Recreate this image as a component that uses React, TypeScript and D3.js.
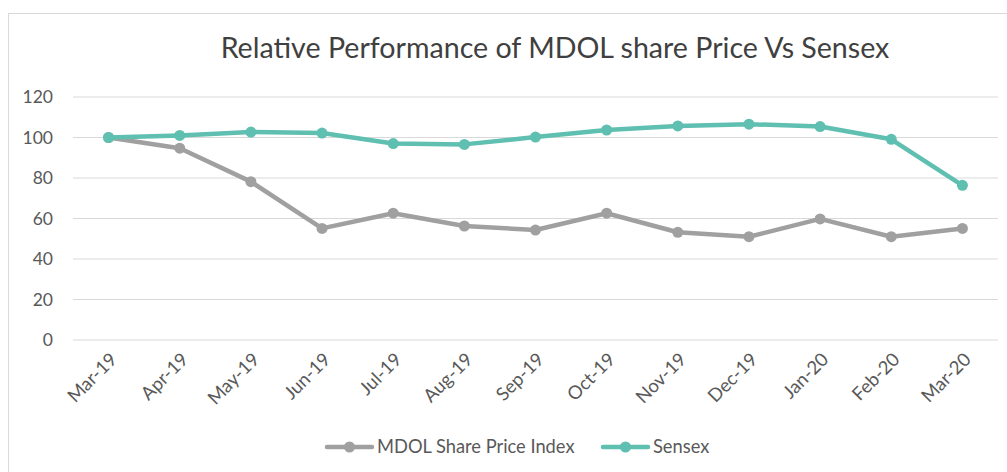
import React, { useEffect, useRef } from 'react';
import * as d3 from 'd3';

// monthly categories
const months = ['Mar-19', 'Apr-19', 'May-19', 'Jun-19', 'Jul-19', 'Aug-19', 'Sep-19', 'Oct-19', 'Nov-19', 'Dec-19', 'Jan-20', 'Feb-20', 'Mar-20'];
const mdolIndex = [100, 94.7, 78.2, 55.1, 62.6, 56.3, 54.3, 62.6, 53.2, 51.0, 59.8, 51.0, 55.1];
const sensex = [100, 101, 102.7, 102.2, 97.0, 96.6, 100.2, 103.7, 105.7, 106.6, 105.4, 99.1, 76.4];
const yTicks = [0, 20, 40, 60, 80, 100, 120];
const seriesNames = ['MDOL Share Price Index', 'Sensex'];

const FONT = 'Lato, "Open Sans", sans-serif';

const App: React.FC = () => {
  const svgRef = useRef<SVGSVGElement>(null);

  useEffect(() => {
    if (!svgRef.current) return;
    const width = 1007;
    const height = 472;
    const margin = { top: 97, right: 9, bottom: 132, left: 73 };

    const svg = d3.select(svgRef.current);
    svg.selectAll('*').remove();

    // outer chart border (right/bottom run off the picture)
    svg.append('rect')
      .attr('x', 8.5).attr('y', 13.5)
      .attr('width', 1010).attr('height', 490)
      .attr('fill', 'white')
      .attr('stroke', '#d9d9d9');

    const x = d3.scaleBand()
      .domain(months)
      .range([margin.left, width - margin.right]);

    const y = d3.scaleLinear()
      .domain([0, 120])
      .range([height - margin.bottom, margin.top]);

    // grid lines
    svg.append('g')
      .selectAll('line')
      .data(yTicks)
      .join('line')
        .attr('x1', margin.left)
        .attr('x2', width - margin.right)
        .attr('y1', d => y(d))
        .attr('y2', d => y(d))
        .attr('stroke', '#d9d9d9')
        .attr('stroke-width', 1);

    // y labels
    svg.append('g')
      .selectAll('text')
      .data(yTicks)
      .join('text')
        .attr('x', 53)
        .attr('y', d => y(d))
        .attr('dy', '0.35em')
        .attr('text-anchor', 'end')
        .attr('font-family', FONT)
        .attr('font-size', 17.5)
        .attr('fill', '#595959')
        .text(d => d);

    // x labels rotated
    const cx = (m: string) => (x(m) ?? 0) + x.bandwidth() / 2;
    svg.append('g')
      .selectAll('text')
      .data(months)
      .join('text')
        .attr('transform', d => `translate(${cx(d) + 5},${y(0) + 16}) rotate(-45)`)
        .attr('text-anchor', 'end')
        .attr('dy', '0.35em')
        .attr('font-family', FONT)
        .attr('font-size', 18.5)
        .attr('fill', '#595959')
        .text(d => d);

    const series = [
      { name: seriesNames[0], values: mdolIndex, color: '#a0a0a0' },
      { name: seriesNames[1], values: sensex, color: '#5fbfb0' },
    ];

    const line = d3.line<number>()
      .x((_, i) => cx(months[i]))
      .y(d => y(d));

    series.forEach(s => {
      const g = svg.append('g');
      g.append('path')
        .datum(s.values)
        .attr('d', line)
        .attr('fill', 'none')
        .attr('stroke', s.color)
        .attr('stroke-width', 4.5)
        .attr('stroke-linejoin', 'round')
        .attr('stroke-linecap', 'round');
      g.selectAll('circle')
        .data(s.values)
        .join('circle')
          .attr('cx', (_, i) => cx(months[i]))
          .attr('cy', d => y(d))
          .attr('r', 5.5)
          .attr('fill', s.color);
    });

    // title
    svg.append('text')
      .attr('x', 555)
      .attr('y', 58)
      .attr('text-anchor', 'middle')
      .attr('font-family', FONT)
      .attr('font-size', 28.6)
      .attr('fill', '#404040')
      .text('Relative Performance of MDOL share Price Vs Sensex');

    // legend
    const legendPos = [327, 603];
    series.forEach((s, i) => {
      const lx = legendPos[i];
      const lg = svg.append('g').attr('transform', `translate(${lx},447)`);
      lg.append('line')
        .attr('x1', 0).attr('x2', 45)
        .attr('y1', 0).attr('y2', 0)
        .attr('stroke', s.color)
        .attr('stroke-width', 4.5)
        .attr('stroke-linecap', 'round');
      lg.append('circle').attr('cx', 22.5).attr('cy', 0).attr('r', 5.5).attr('fill', s.color);
      lg.append('text')
        .attr('x', 50)
        .attr('y', 0)
        .attr('dy', '0.35em')
        .attr('font-family', FONT)
        .attr('font-size', 18.3)
        .attr('fill', '#595959')
        .text(s.name);
    });
  }, []);

  return (
    <svg
      ref={svgRef}
      width={1007}
      height={472}
      style={{ position: 'absolute', left: 0, top: 0, background: 'white' }}
    />
  );
};

export default App;
